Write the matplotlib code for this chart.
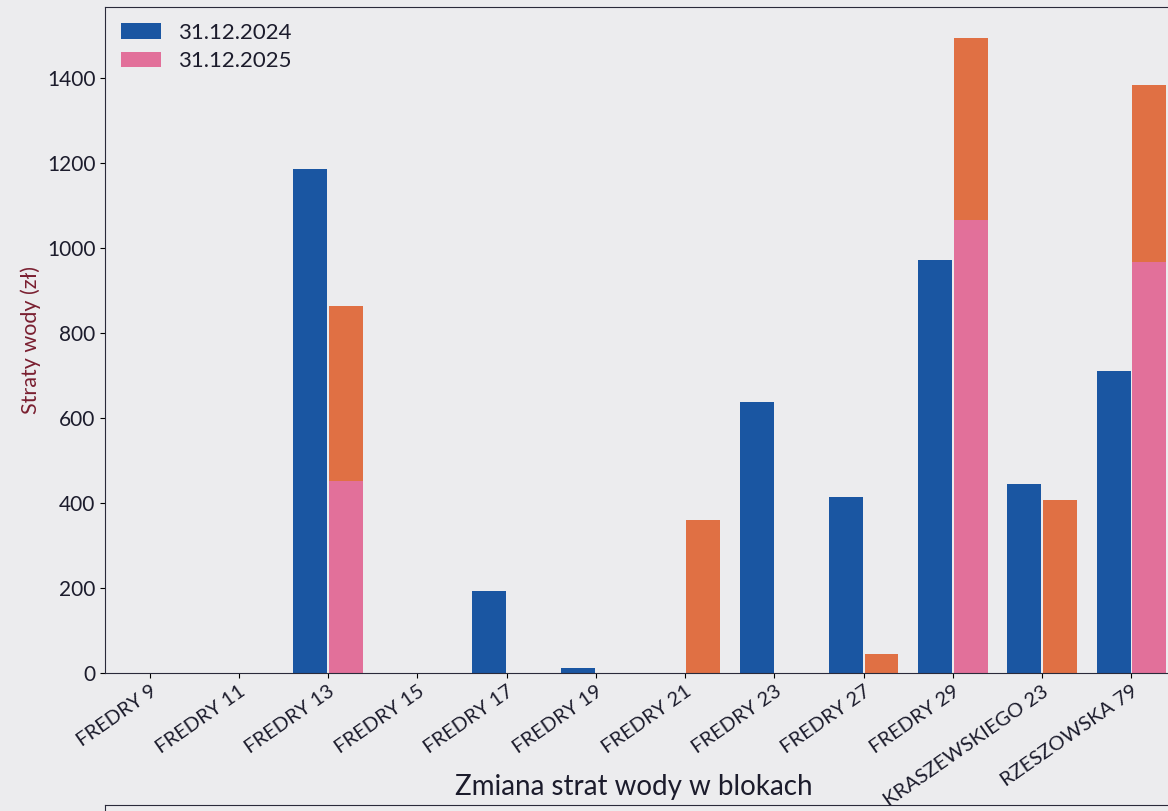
import numpy as np
import matplotlib
matplotlib.use("Agg")
import matplotlib.pyplot as plt

# dane
bloki = ["FREDRY 9", "FREDRY 11", "FREDRY 13", "FREDRY 15", "FREDRY 17", "FREDRY 19",
         "FREDRY 21", "FREDRY 23", "FREDRY 27", "FREDRY 29", "KRASZEWSKIEGO 23", "RZESZOWSKA 79"]
straty_2024 = [0, 0, 1187, 0, 194, 12, 0, 637, 413, 972, 444, 711]
straty_2025 = [0, 0, 863, 0, 0, 0, 359, 0, 45, 1493, 406, 1384]
# dolna (rozowa) czesc slupkow 2025 - tak jak na zdjeciu
rozowa_2025 = [0, 0, 451, 0, 0, 0, 0, 0, 0, 1065, 0, 966]
legenda = ["31.12.2024", "31.12.2025"]

plt.rcParams['font.family'] = ['Lato', 'DejaVu Sans']

tlo = "#ececee"
niebieski = "#1a56a2"
rozowy = "#e2709a"
pomaranczowy = "#e07044"
tekst = "#1c1c2c"

fig = plt.figure(figsize=(11.68, 8.11), dpi=100, facecolor=tlo)
W, H = 1168, 811
ax = fig.add_axes([105 / W, (H - 673) / H, 1080 / W, 666 / H])
ax.set_facecolor(tlo)

x = np.arange(len(bloki))
s25 = np.array(straty_2025)
roz = np.array(rozowa_2025)
gora = np.where(roz > 0, s25 - roz, s25)

ax.bar(x - 0.2, straty_2024, width=0.38, color=niebieski, label=legenda[0])
ax.bar(x + 0.2, roz, width=0.38, color=rozowy, label=legenda[1])
ax.bar(x + 0.2, gora, width=0.38, bottom=roz, color=pomaranczowy)

ax.set_xlim(-0.5, 11.6)
ax.set_ylim(0, 1567)
ax.set_xticks(x)
ax.set_xticklabels(bloki, rotation=35, ha="right", rotation_mode="anchor", fontsize=14.5, color=tekst)
ax.set_yticks(range(0, 1600, 200))
ax.tick_params(axis="y", labelsize=15, labelcolor=tekst)
ax.set_ylabel("Straty wody (zł)", fontsize=15.5, color="#7a1f30")
ax.legend(loc="upper left", fontsize=16, frameon=False, labelcolor=tekst,
          handlelength=1.8, borderaxespad=0.3, labelspacing=0.4)
for sp in ax.spines.values():
    sp.set_color("#2a2a3a")

# drugi wykres (ucieta gora)
ax2 = fig.add_axes([105 / W, -0.5, 1080 / W, 0.5 + (H - 805) / H])
ax2.set_facecolor(tlo)
ax2.set_xticks([])
ax2.set_yticks([])
ax2.set_title("Zmiana strat wody w blokach", fontsize=20, color=tekst, x=0.49, pad=7)
for sp in ax2.spines.values():
    sp.set_color("#2a2a3a")

fig.savefig("out.png", dpi=100, facecolor=tlo)
